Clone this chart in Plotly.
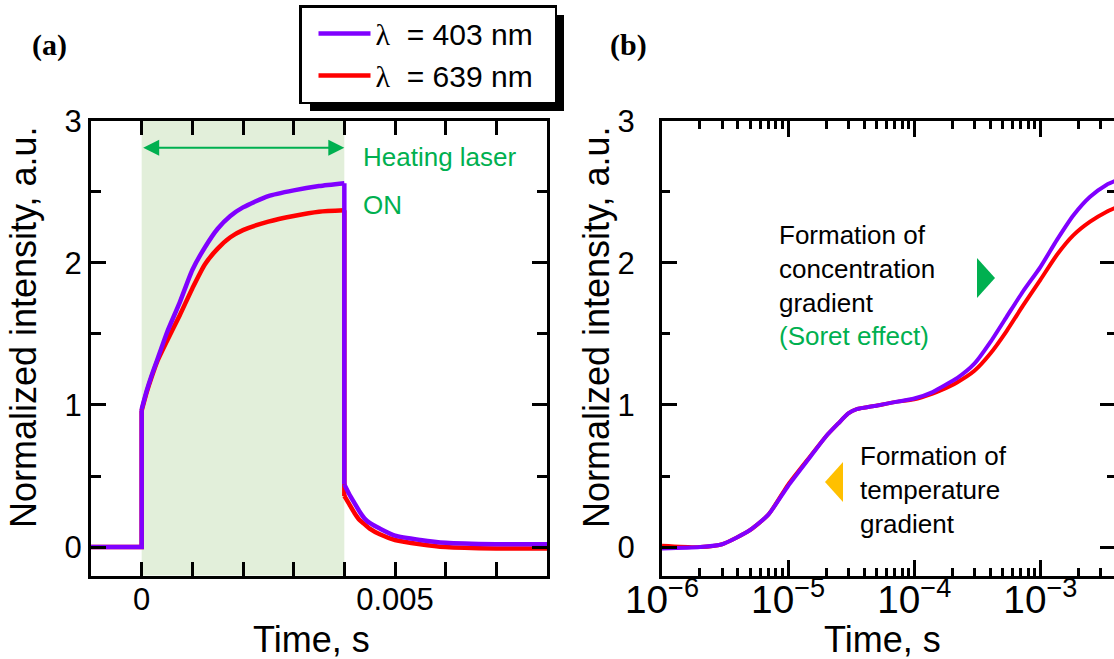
import plotly.graph_objects as go

W, H = 1114, 659


def fx(p):
    """pixel column -> paper x"""
    return p / W


def fy(p):
    """pixel row -> paper y"""
    return 1 - p / H


# ---------------- data ----------------
# (a) linear time scale; the heating laser is on between laser_on[0] and laser_on[1]
laser_on = [0.0, 0.004]

time_a = [-0.001, -0.0005, 0.0, 0.0, 0.0001, 0.0002, 0.0003, 0.0005, 0.00075, 0.001,
          0.00125, 0.0015, 0.00175, 0.002, 0.0025, 0.003, 0.0035, 0.004, 0.004, 0.0041,
          0.0042, 0.0043, 0.0044, 0.0045, 0.0047, 0.005, 0.0055, 0.006, 0.007, 0.008]
i403_a = [0.0, 0.0, 0.0, 0.97, 1.10, 1.21, 1.31, 1.51, 1.72, 1.95,
          2.11, 2.24, 2.33, 2.39, 2.47, 2.51, 2.54, 2.56, 0.44, 0.37,
          0.31, 0.25, 0.20, 0.17, 0.13, 0.08, 0.05, 0.03, 0.02, 0.02]
i639_a = [0.0, 0.0, 0.0, 0.96, 1.09, 1.20, 1.30, 1.45, 1.63, 1.82,
          1.99, 2.10, 2.18, 2.23, 2.29, 2.33, 2.36, 2.37, 0.36, 0.30,
          0.24, 0.19, 0.16, 0.13, 0.09, 0.05, 0.02, 0.0, -0.01, -0.01]

# (b) logarithmic time scale
time_b = [1e-6, 2e-6, 3e-6, 5e-6, 7e-6, 1e-5, 1.5e-5, 2e-5, 2.5e-5, 3e-5, 3.5e-5, 5e-5,
          7e-5, 1e-4, 1.4e-4, 1.6e-4, 2.2e-4, 3e-4, 4e-4, 5.4e-4, 7.3e-4, 1e-3, 1.35e-3,
          1.83e-3, 2.48e-3, 3.36e-3, 4e-3]
i403_b = [-0.01, 0.0, 0.02, 0.12, 0.23, 0.43, 0.635, 0.78, 0.87, 0.94, 0.97, 0.995,
          1.02, 1.045, 1.09, 1.12, 1.19, 1.29, 1.44, 1.62, 1.80, 1.97, 2.16,
          2.335, 2.465, 2.55, 2.58]
i639_b = [0.01, 0.0, 0.02, 0.12, 0.23, 0.44, 0.64, 0.78, 0.87, 0.94, 0.97, 0.995,
          1.02, 1.04, 1.08, 1.10, 1.16, 1.24, 1.36, 1.52, 1.70, 1.88, 2.055,
          2.195, 2.29, 2.36, 2.39]

series_names = ["<span style='font-family:Liberation Serif'>λ</span>\u00a0\u00a0= 403 nm\u00a0\u00a0",
                "<span style='font-family:Liberation Serif'>λ</span>\u00a0\u00a0= 639 nm\u00a0\u00a0"]

xa_tickvals = [0.0, 0.001, 0.002, 0.003, 0.004, 0.005, 0.006, 0.007]
xa_ticktext = ["0", "", "", "", "", "0.005", "", ""]

# ---------------- style ----------------
PURPLE = "#8000FF"
RED = "#FF0000"
GREEN = "#00B050"
ORANGE = "#FFC000"
SHADE = "#E2EFDA"
FONT = "Liberation Sans, Arial, sans-serif"

fig = go.Figure()

# panel (a): each trace is drawn piecewise so the laser switching edges stay vertical
# (pre-trigger + jump | heating rise | switch-off drop | relaxation)
pieces = [(0, 4, "linear"), (3, 18, "spline"), (17, 19, "linear"), (18, 30, "spline")]
for values, color, name in ((i639_a, RED, series_names[1]), (i403_a, PURPLE, series_names[0])):
    for k, (s, e, shape) in enumerate(pieces):
        fig.add_trace(go.Scatter(
            x=time_a[s:e], y=values[s:e], mode="lines", name=name,
            legendgroup=name, showlegend=(k == 0),
            line=dict(color=color, width=4.5, shape=shape, smoothing=0.6),
            xaxis="x", yaxis="y"))

# panel (b)
fig.add_trace(go.Scatter(x=time_b, y=i639_b, mode="lines", showlegend=False,
                         line=dict(color=RED, width=4, shape="spline", smoothing=0.6),
                         xaxis="x2", yaxis="y2"))
fig.add_trace(go.Scatter(x=time_b, y=i403_b, mode="lines", showlegend=False,
                         line=dict(color=PURPLE, width=4, shape="spline", smoothing=0.6),
                         xaxis="x2", yaxis="y3"))

ydom = [fy(575.5), fy(120.7)]
axis_common = dict(showgrid=False, zeroline=False, showline=True, linecolor="black",
                   linewidth=3, ticks="inside", tickcolor="black", tickwidth=2.5,
                   tickfont=dict(family=FONT, size=31, color="black"), automargin=False)

fig.update_layout(
    width=W, height=H,
    margin=dict(l=0, r=0, t=0, b=0),
    paper_bgcolor="white", plot_bgcolor="white",
    font=dict(family=FONT, color="black"),
    xaxis=dict(axis_common, domain=[fx(91), fx(547)], range=[-0.001, 0.008],
               tickmode="array", tickvals=xa_tickvals, ticktext=xa_ticktext,
               ticklen=14, mirror="ticks", anchor="y", ticklabelstandoff=-6),
    yaxis=dict(axis_common, domain=ydom, range=[-0.2, 3], dtick=1, ticklen=15,
               minor=dict(dtick=0.5, ticks="inside", ticklen=10, tickwidth=2.5, tickcolor="black"),
               mirror="ticks", anchor="x", ticklabelstandoff=0),
    xaxis2=dict(axis_common, domain=[fx(662), 1.0], type="log", range=[-6, -2.416],
                dtick=1, exponentformat="power", ticklen=16,
                minor=dict(dtick="D1", ticks="inside", ticklen=8, tickwidth=2.5, tickcolor="black"),
                mirror="ticks", anchor="y2", ticklabelstandoff=-10),
    yaxis2=dict(axis_common, domain=ydom, range=[-0.2, 3], dtick=1, ticklen=15,
                minor=dict(dtick=0.5, ticks="inside", ticklen=8, tickwidth=2.5, tickcolor="black"),
                anchor="x2", ticklabelstandoff=18),
    yaxis3=dict(showgrid=False, zeroline=False, showline=False, overlaying="y2", side="right",
                anchor="x2", range=[-0.2, 3], dtick=1, ticks="inside", ticklen=14,
                tickwidth=2.5, tickcolor="black", showticklabels=False, automargin=False,
                minor=dict(dtick=0.5, ticks="inside", ticklen=7, tickwidth=2.5, tickcolor="black")),
    legend=dict(x=fx(299), y=fy(5), xanchor="left", yanchor="top",
                bgcolor="white", bordercolor="black", borderwidth=2.5,
                font=dict(family=FONT, size=30, color="black"),
                traceorder="reversed", itemwidth=52, indentation=12, tracegroupgap=0),
)

# heating-laser window and legend shadow
fig.add_shape(type="rect", xref="x", yref="y domain", x0=laser_on[0], x1=laser_on[1],
              y0=0, y1=1, fillcolor=SHADE, line_width=0, layer="below")
fig.add_shape(type="rect", xref="paper", yref="paper", x0=fx(310), x1=fx(564),
              y0=fy(111), y1=fy(15), fillcolor="black", line_width=0, layer="above")

# arrow markers next to the panel (b) notes
fig.add_shape(type="path", xref="paper", yref="paper",
              path=f"M{fx(977)},{fy(258)} L{fx(995)},{fy(278)} L{fx(977)},{fy(298)} Z",
              fillcolor=GREEN, line_width=0)
fig.add_shape(type="path", xref="paper", yref="paper",
              path=f"M{fx(843)},{fy(462)} L{fx(825)},{fy(482)} L{fx(843)},{fy(502)} Z",
              fillcolor=ORANGE, line_width=0)

ann = []
# double-headed arrow spanning the laser-on interval
ann.append(dict(x=laser_on[1], y=2.81, ax=laser_on[0], ay=2.81, xref="x", yref="y",
                axref="x", ayref="y", text="", showarrow=True, arrowside="end+start",
                arrowhead=2, startarrowhead=2, arrowsize=1.6, startarrowsize=1.6,
                arrowwidth=2, arrowcolor=GREEN))
note = dict(family=FONT, size=26)
ann.append(dict(x=fx(361), y=fy(157), xref="paper", yref="paper", text="Heating laser",
                showarrow=False, xanchor="left", yanchor="middle",
                font=dict(note, color=GREEN)))
ann.append(dict(x=fx(361), y=fy(205), xref="paper", yref="paper", text="ON",
                showarrow=False, xanchor="left", yanchor="middle",
                font=dict(note, color=GREEN)))
ann.append(dict(x=fx(777), y=fy(285), xref="paper", yref="paper",
                text="Formation of<br>concentration<br>gradient<br>"
                     f"<span style='color:{GREEN}'>(Soret effect)</span>",
                showarrow=False, xanchor="left", yanchor="middle", align="left",
                font=dict(note, color="black")))
ann.append(dict(x=fx(858), y=fy(490), xref="paper", yref="paper",
                text="Formation of<br>temperature<br>gradient",
                showarrow=False, xanchor="left", yanchor="middle", align="left",
                font=dict(note, color="black")))
# panel tags
for tag, cx in (("(a)", 49.5), ("(b)", 628.5)):
    ann.append(dict(x=fx(cx), y=fy(45), xref="paper", yref="paper", text=f"<b>{tag}</b>",
                    showarrow=False, xanchor="center", yanchor="middle",
                    font=dict(family="Liberation Serif, Times New Roman, serif", size=30,
                              color="black")))
# axis titles
title_font = dict(family=FONT, size=36, color="black")
for cx in (311.7, 882):
    ann.append(dict(x=fx(cx), y=fy(639), xref="paper", yref="paper", text="Time, s",
                    showarrow=False, xanchor="center", yanchor="middle", font=title_font))
for cx in (23, 596):
    ann.append(dict(x=fx(cx), y=fy(327), xref="paper", yref="paper",
                    text="Normalized intensity, a.u.", textangle=-90,
                    showarrow=False, xanchor="center", yanchor="middle", font=title_font))
fig.update_layout(annotations=ann)

fig.write_html("out.html")
